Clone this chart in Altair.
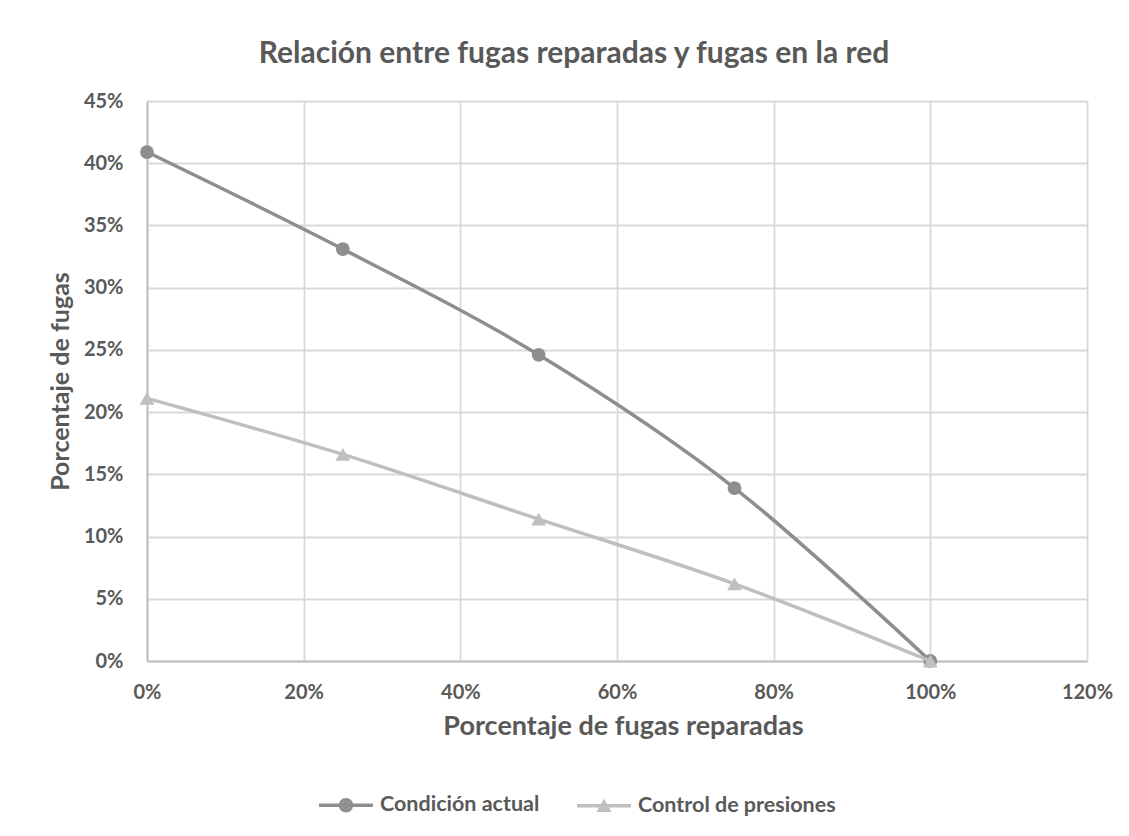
import altair as alt
import pandas as pd

# ---- data ----
x_repaired = [0.0, 0.25, 0.50, 0.75, 1.00]
condicion_actual = [0.409, 0.331, 0.246, 0.139, 0.0]
control_presiones = [0.211, 0.166, 0.114, 0.062, 0.0]
series_names = ["Condición actual", "Control de presiones"]
x_ticks = [0, 0.2, 0.4, 0.6, 0.8, 1.0, 1.2]
y_ticks = [0, 0.05, 0.10, 0.15, 0.20, 0.25, 0.30, 0.35, 0.40, 0.45]

rows = []
for s, vals in zip(series_names, [condicion_actual, control_presiones]):
    for xv, yv in zip(x_repaired, vals):
        rows.append({"x": xv, "y": yv, "serie": s})
df = pd.DataFrame(rows)

C1 = "#8e8e8e"
C2 = "#bfbfbf"
TXT = "#595959"
FONT = "Lato"

# legend symbols: line + marker (drawn by strokes only)
circle_path = ("M-1,0H1 "
               "M0.2037,0A0.2037,0.2037,0,1,1,-0.2037,0A0.2037,0.2037,0,1,1,0.2037,0Z "
               "M0.074,0A0.074,0.074,0,1,1,-0.074,0A0.074,0.074,0,1,1,0.074,0Z")
tri_path = ("M-1,0H1 "
            "M0,-0.125L0.17,0.17L-0.17,0.17Z "
            "M-0.03,0.07H0.03")

x_enc = alt.X("x:Q", scale=alt.Scale(domain=[0, 1.2], nice=False, zero=False),
              axis=alt.Axis(values=x_ticks, format=".0%", title="Porcentaje de fugas reparadas",
                            ticks=False, tickSize=0, labelPadding=37, labelBaseline="alphabetic",
                            labelFontSize=20, labelFont=FONT, labelFontWeight="bold", labelColor=TXT,
                            titleFont=FONT, titleFontSize=27, titleFontWeight="bold", titleColor=TXT,
                            titleBaseline="alphabetic", titleY=73, titleX=476,
                            grid=True, gridColor="#d9d9d9", gridWidth=1.8,
                            domainColor="#bfbfbf", domainWidth=2, labelFlush=False))
y_enc = alt.Y("y:Q", scale=alt.Scale(domain=[0, 0.45], nice=False, zero=False),
              axis=alt.Axis(values=y_ticks, format=".0%", title="Porcentaje de fugas",
                            ticks=False, tickSize=0, labelPadding=24,
                            labelFontSize=20, labelFont=FONT, labelFontWeight="bold", labelColor=TXT,
                            titleFont=FONT, titleFontSize=25, titleFontWeight="bold", titleColor=TXT,
                            titleAngle=270, titleBaseline="alphabetic", titleAlign="center",
                            titleX=-79, titleY=280,
                            grid=True, gridColor="#d9d9d9", gridWidth=1.8,
                            domainColor="#bfbfbf", domainWidth=2, labelFlush=False))

base = alt.Chart(df)

line1 = base.mark_line(color=C1, strokeWidth=3.5, interpolate="cardinal").encode(
    x=x_enc, y=y_enc).transform_filter(alt.datum.serie == series_names[0])
pts1 = base.mark_point(filled=True, shape="circle", size=190, color=C1, opacity=1).encode(
    x=x_enc, y=y_enc).transform_filter(alt.datum.serie == series_names[0])
line2 = base.mark_line(color=C2, strokeWidth=3.5, interpolate="cardinal").encode(
    x=x_enc, y=y_enc).transform_filter(alt.datum.serie == series_names[1])
pts2 = base.mark_point(filled=True, shape="triangle-up", size=220, color=C2, opacity=1).encode(
    x=x_enc, y=y_enc).transform_filter(alt.datum.serie == series_names[1])

leg = alt.Legend(orient="none", legendX=170, legendY=675,
                 direction="horizontal", title=None,
                 symbolSize=2916, symbolStrokeWidth=3.5,
                 labelFont=FONT, labelFontSize=21.5, labelFontWeight="bold",
                 labelColor=TXT, labelOffset=5, columnPadding=30, labelLimit=500,
                 padding=0, symbolOpacity=1)

legend_layer = base.mark_point(filled=False, opacity=1, strokeWidth=3.5).encode(
    x=x_enc, y=y_enc,
    color=alt.Color("serie:N", scale=alt.Scale(domain=series_names, range=[C1, C2]), legend=leg),
    shape=alt.Shape("serie:N", scale=alt.Scale(domain=series_names, range=[circle_path, tri_path]),
                    legend=leg),
).transform_filter("false")

chart = alt.layer(line1, pts1, line2, pts2, legend_layer).properties(
    width=940, height=560,
    title=alt.Title("Relación entre fugas reparadas y fugas en la red",
                    font=FONT, fontSize=30, fontWeight="bold", color=TXT,
                    anchor="middle", frame="group", dx=-43, offset=-2, baseline="alphabetic"),
    autosize=alt.AutoSizeParams(type="none"),
    padding={"left": 139, "top": 93, "right": 34, "bottom": 159},
).configure_view(stroke="transparent").configure(background="white")

chart.save("out.html", embed_options={"renderer": "svg", "actions": False})
